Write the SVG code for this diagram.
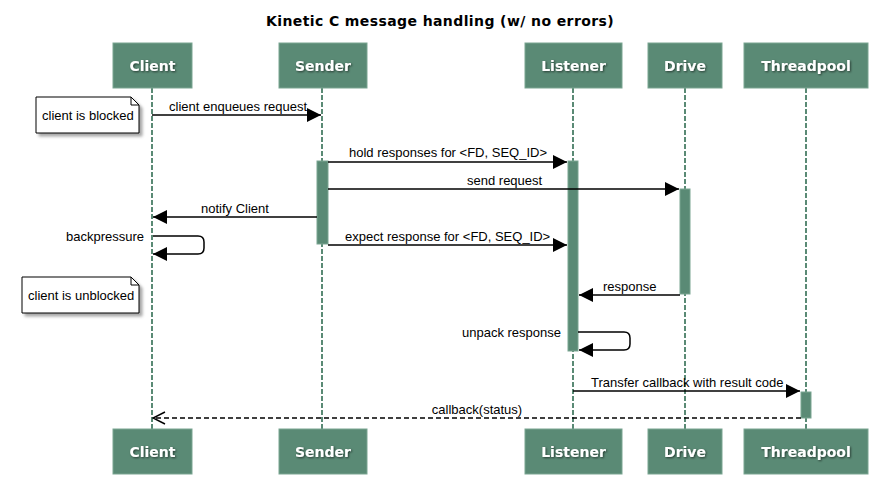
<svg xmlns="http://www.w3.org/2000/svg" width="880" height="482" viewBox="0 0 880 482">
<style>
.box{fill:#5a8a75;stroke:#7aa592;stroke-width:1}
.ptext{font-family:"DejaVu Sans",sans-serif;font-weight:bold;font-size:14px;fill:#ffffff;text-anchor:middle}
.life{stroke:#5a8a75;stroke-width:2;stroke-dasharray:5,2;fill:none}
.act{fill:#5a8a75;stroke:#7aa592;stroke-width:1}
.msg{stroke:#000;stroke-width:1.5;fill:none}
.dash{stroke:#000;stroke-width:1.5;fill:none;stroke-dasharray:5,3}
.lbl{font-family:"Liberation Sans",Arial,sans-serif;font-size:13px;fill:#000}
.note{fill:#fff;stroke:#000;stroke-width:1}
.title{font-family:"DejaVu Sans",sans-serif;font-weight:bold;font-size:14px;letter-spacing:0.4px;fill:#000;text-anchor:middle}
</style>
<defs>
<marker id="fill" markerWidth="14" markerHeight="14" refX="14" refY="7" orient="auto" markerUnits="userSpaceOnUse">
<path d="M0,0 L14,7 L0,14 Z" fill="#000"/>
</marker>
<marker id="open" markerWidth="14" markerHeight="14" refX="13" refY="7" orient="auto" markerUnits="userSpaceOnUse">
<path d="M1,1 L13,7 L1,13" fill="none" stroke="#000" stroke-width="1.5"/>
</marker>
<filter id="tsh" x="-20%" y="-40%" width="140%" height="180%">
<feDropShadow dx="1" dy="1" stdDeviation="1" flood-color="#000" flood-opacity="0.6"/>
</filter>
<filter id="nsh" x="-10%" y="-10%" width="130%" height="140%">
<feDropShadow dx="3" dy="3" stdDeviation="1.5" flood-color="#000" flood-opacity="0.35"/>
</filter>
</defs>
<rect width="880" height="482" fill="#fff"/>
<text class="title" x="440" y="26">Kinetic C message handling (w/ no errors)</text>

<g id="lifelines">
<line class="life" x1="152" y1="88" x2="152" y2="429"/>
<line class="life" x1="322" y1="88" x2="322" y2="429"/>
<line class="life" x1="573" y1="88" x2="573" y2="429"/>
<line class="life" x1="685" y1="88" x2="685" y2="429"/>
<line class="life" x1="806" y1="88" x2="806" y2="429"/>
</g>

<g id="Client">
<rect class="box" x="113" y="43" width="79" height="45"/>
<text class="ptext" x="152.5" y="71" filter="url(#tsh)">Client</text>
<rect class="box" x="113" y="429" width="79" height="45"/>
<text class="ptext" x="152.5" y="457" filter="url(#tsh)">Client</text>
</g>
<g id="Sender">
<rect class="box" x="279" y="43" width="88" height="45"/>
<text class="ptext" x="323" y="71" filter="url(#tsh)">Sender</text>
<rect class="box" x="279" y="429" width="88" height="45"/>
<text class="ptext" x="323" y="457" filter="url(#tsh)">Sender</text>
</g>
<g id="Listener">
<rect class="box" x="525" y="43" width="97" height="45"/>
<text class="ptext" x="573.5" y="71" filter="url(#tsh)">Listener</text>
<rect class="box" x="525" y="429" width="97" height="45"/>
<text class="ptext" x="573.5" y="457" filter="url(#tsh)">Listener</text>
</g>
<g id="Drive">
<rect class="box" x="648" y="43" width="74" height="45"/>
<text class="ptext" x="685" y="71" filter="url(#tsh)">Drive</text>
<rect class="box" x="648" y="429" width="74" height="45"/>
<text class="ptext" x="685" y="457" filter="url(#tsh)">Drive</text>
</g>
<g id="Threadpool">
<rect class="box" x="744" y="43" width="124" height="45"/>
<text class="ptext" x="806" y="71" filter="url(#tsh)">Threadpool</text>
<rect class="box" x="744" y="429" width="124" height="45"/>
<text class="ptext" x="806" y="457" filter="url(#tsh)">Threadpool</text>
</g>

<g id="activations">
<rect class="act" x="317" y="161" width="11" height="83"/>
<rect class="act" x="568" y="161" width="10" height="190"/>
<rect class="act" x="680" y="189" width="10" height="105"/>
<rect class="act" x="801" y="392" width="10" height="26"/>
</g>

<g id="note-blocked">
<path class="note" filter="url(#nsh)" d="M36,97 H131 L139,105 V133 H36 Z"/>
<path d="M131,97 V105 H139" fill="none" stroke="#000" stroke-width="1"/>
<text class="lbl" x="42" y="120">client is blocked</text>
</g>
<g id="note-unblocked">
<path class="note" filter="url(#nsh)" d="M22,277 H131 L139,285 V313 H22 Z"/>
<path d="M131,277 V285 H139" fill="none" stroke="#000" stroke-width="1"/>
<text class="lbl" x="28" y="300">client is unblocked</text>
</g>

<g id="connectors">
<line class="msg" x1="152" y1="115" x2="321" y2="115" marker-end="url(#fill)"/>
<text class="lbl" x="169" y="111">client enqueues request</text>

<line class="msg" x1="328" y1="162" x2="567" y2="162" marker-end="url(#fill)"/>
<text class="lbl" x="349" y="157">hold responses for &lt;FD, SEQ_ID&gt;</text>

<line class="msg" x1="328" y1="189" x2="679" y2="189" marker-end="url(#fill)"/>
<text class="lbl" x="467" y="185">send request</text>

<line class="msg" x1="317" y1="217" x2="153" y2="217" marker-end="url(#fill)"/>
<text class="lbl" x="201" y="213">notify Client</text>

<path class="msg" d="M153,236 H198 Q204,236 204,242 V248 Q204,254 198,254 H153" marker-end="url(#fill)"/>
<text class="lbl" x="144" y="241" text-anchor="end">backpressure</text>

<line class="msg" x1="328" y1="245" x2="567" y2="245" marker-end="url(#fill)"/>
<text class="lbl" x="345" y="241">expect response for &lt;FD, SEQ_ID&gt;</text>

<line class="msg" x1="680" y1="295" x2="579" y2="295" marker-end="url(#fill)"/>
<text class="lbl" x="603" y="291">response</text>

<path class="msg" d="M578,332 H624 Q630,332 630,338 V344 Q630,350 624,350 H579" marker-end="url(#fill)"/>
<text class="lbl" x="561" y="337" text-anchor="end">unpack response</text>

<line class="msg" x1="573" y1="391" x2="800" y2="391" marker-end="url(#fill)"/>
<text class="lbl" x="591" y="387">Transfer callback with result code</text>

<line class="dash" x1="801" y1="418" x2="153" y2="418" marker-end="url(#open)"/>
<text class="lbl" x="477" y="414" text-anchor="middle">callback(status)</text>
</g>
</svg>
